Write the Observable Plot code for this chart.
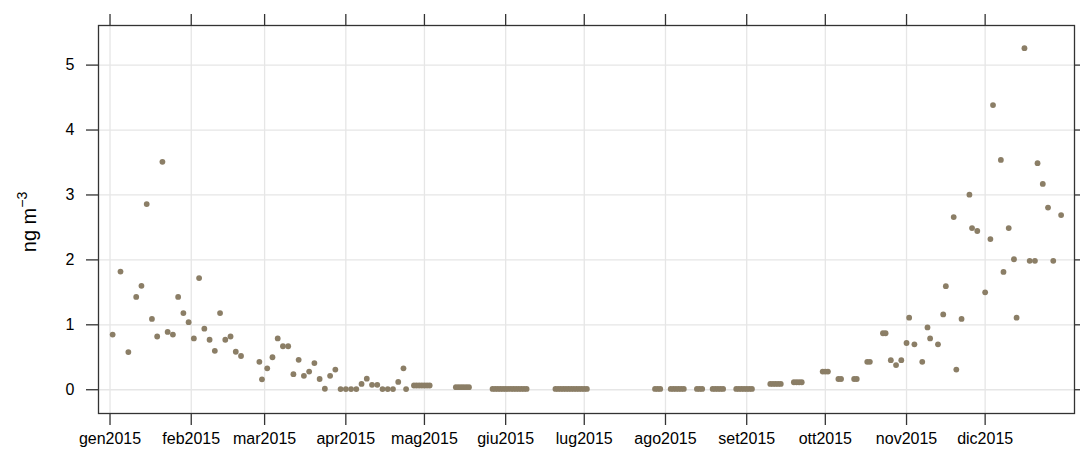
<!DOCTYPE html>
<html>
<head>
<meta charset="utf-8">
<script src="https://cdn.jsdelivr.net/npm/d3@7"></script>
<script src="https://cdn.jsdelivr.net/npm/@observablehq/plot@0.6"></script>
<style>
  html, body { margin: 0; padding: 0; background: #fff; }
  #chart svg { display: block; }
</style>
</head>
<body>
<div id="chart"></div>
<script>
// ---- data ----
const dates = [
  // January
  "2015-01-02","2015-01-05","2015-01-08","2015-01-11","2015-01-13","2015-01-15","2015-01-17",
  "2015-01-19","2015-01-21","2015-01-23","2015-01-25","2015-01-27","2015-01-29","2015-01-31",
  // February
  "2015-02-02","2015-02-04","2015-02-06","2015-02-08","2015-02-10","2015-02-12","2015-02-14",
  "2015-02-16","2015-02-18","2015-02-20","2015-02-27","2015-02-28",
  // March
  "2015-03-02","2015-03-04","2015-03-06","2015-03-08","2015-03-10","2015-03-12","2015-03-14",
  "2015-03-16","2015-03-18","2015-03-20","2015-03-22","2015-03-24","2015-03-26","2015-03-28","2015-03-30",
  // April
  "2015-04-01","2015-04-03","2015-04-05","2015-04-07","2015-04-09","2015-04-11","2015-04-13",
  "2015-04-15","2015-04-17","2015-04-19","2015-04-21","2015-04-23","2015-04-24",
  // late April - early May
  "2015-04-27","2015-04-28","2015-04-29","2015-04-30","2015-05-01","2015-05-02","2015-05-03",
  "2015-05-13","2015-05-14","2015-05-15","2015-05-16","2015-05-17","2015-05-18",
  // late May - early June
  "2015-05-27","2015-05-28","2015-05-29","2015-05-30","2015-05-31","2015-06-01","2015-06-02",
  "2015-06-03","2015-06-04","2015-06-05","2015-06-06","2015-06-07","2015-06-08","2015-06-09",
  // late June - early July
  "2015-06-20","2015-06-21","2015-06-22","2015-06-23","2015-06-24","2015-06-25","2015-06-26",
  "2015-06-27","2015-06-28","2015-06-29","2015-06-30","2015-07-01","2015-07-02",
  // late July - August
  "2015-07-28","2015-07-29","2015-07-30",
  "2015-08-03","2015-08-04","2015-08-05","2015-08-06","2015-08-07","2015-08-08",
  "2015-08-13","2015-08-14","2015-08-15",
  "2015-08-19","2015-08-20","2015-08-21","2015-08-22","2015-08-23",
  "2015-08-28","2015-08-29","2015-08-30","2015-08-31","2015-09-01","2015-09-02","2015-09-03",
  // September - October
  "2015-09-10","2015-09-11","2015-09-12","2015-09-13","2015-09-14",
  "2015-09-19","2015-09-20","2015-09-21","2015-09-22",
  "2015-09-30","2015-10-01","2015-10-02",
  "2015-10-06","2015-10-07",
  "2015-10-12","2015-10-13",
  "2015-10-17","2015-10-18",
  "2015-10-23","2015-10-24",
  "2015-10-26","2015-10-28","2015-10-30",
  // November
  "2015-11-01","2015-11-02","2015-11-04","2015-11-07","2015-11-09","2015-11-10","2015-11-13",
  "2015-11-15","2015-11-16","2015-11-19","2015-11-20","2015-11-22","2015-11-25","2015-11-26","2015-11-28",
  // December
  "2015-12-01","2015-12-03","2015-12-04","2015-12-07","2015-12-08","2015-12-10","2015-12-12",
  "2015-12-13","2015-12-16","2015-12-18","2015-12-20","2015-12-21","2015-12-23","2015-12-25",
  "2015-12-27","2015-12-30"
];

const values = [
  // January
  0.85, 1.82, 0.58, 1.43, 1.60, 2.86, 1.09,
  0.82, 3.51, 0.89, 0.85, 1.43, 1.18, 1.04,
  // February
  0.79, 1.72, 0.94, 0.77, 0.60, 1.18, 0.77,
  0.82, 0.585, 0.52, 0.43, 0.16,
  // March
  0.33, 0.50, 0.79, 0.67, 0.67, 0.24, 0.46,
  0.215, 0.28, 0.41, 0.165, 0.015, 0.215, 0.31, 0.01,
  // April
  0.01, 0.01, 0.01, 0.09, 0.17, 0.075, 0.075,
  0.01, 0.01, 0.01, 0.12, 0.33, 0.01,
  // late April - early May
  0.065, 0.065, 0.065, 0.065, 0.065, 0.065, 0.065,
  0.04, 0.04, 0.04, 0.04, 0.04, 0.04,
  // late May - early June
  0.012, 0.012, 0.012, 0.012, 0.012, 0.012, 0.012,
  0.012, 0.012, 0.012, 0.012, 0.012, 0.012, 0.012,
  // late June - early July
  0.012, 0.012, 0.012, 0.012, 0.012, 0.012, 0.012,
  0.012, 0.012, 0.012, 0.012, 0.012, 0.012,
  // late July - August
  0.012, 0.012, 0.012,
  0.012, 0.012, 0.012, 0.012, 0.012, 0.012,
  0.012, 0.012, 0.012,
  0.012, 0.012, 0.012, 0.012, 0.012,
  0.012, 0.012, 0.012, 0.012, 0.012, 0.012, 0.012,
  // September - October
  0.09, 0.09, 0.09, 0.09, 0.09,
  0.115, 0.115, 0.115, 0.115,
  0.28, 0.28, 0.28,
  0.165, 0.165,
  0.165, 0.165,
  0.43, 0.43,
  0.87, 0.87,
  0.455, 0.38, 0.455,
  // November
  0.72, 1.11, 0.70, 0.43, 0.96, 0.79, 0.70,
  1.16, 1.595, 2.66, 0.31, 1.09, 3.005, 2.49, 2.445,
  // December
  1.50, 2.32, 4.385, 3.54, 1.815, 2.49, 2.01,
  1.11, 5.26, 1.985, 1.985, 3.49, 3.17, 2.805,
  1.985, 2.69
];

const monthNames = ["gen","feb","mar","apr","mag","giu","lug","ago","set","ott","nov","dic"];
const tickYear = 2015;
const yTicks = [0, 1, 2, 3, 4, 5];
const yLabelMain = "ng m";
const yLabelSup = "\u22123";

// ---- build ----
const data = dates.map((d, i) => ({date: new Date(d + "T00:00:00Z"), value: values[i]}));
const monthTicks = monthNames.map((m, i) => new Date(Date.UTC(tickYear, i, 1)));
const fmtMonth = d => monthNames[d.getUTCMonth()] + d.getUTCFullYear();

const FONT = "'Liberation Sans', Arial, sans-serif";
const INK = "#333333";

const chart = Plot.plot({
  width: 1080,
  height: 456,
  marginTop: 25,
  marginBottom: 43,
  marginLeft: 98,
  marginRight: 6,
  style: {fontFamily: FONT, fontSize: "16px", color: "#000", background: "#fff"},
  x: {type: "utc", domain: [new Date("2014-12-27T14:30:00Z"), new Date("2016-01-04T02:30:00Z")]},
  y: {domain: [-0.366, 5.61]},
  marks: [
    Plot.gridX(monthTicks, {stroke: "#e6e6e6", strokeOpacity: 1, strokeWidth: 1.3}),
    Plot.gridY(yTicks, {stroke: "#e6e6e6", strokeOpacity: 1, strokeWidth: 1.3}),
    Plot.dot(data, {x: "date", y: "value", r: 2.9, fill: "#8B7E66"}),
    Plot.frame({stroke: INK, strokeWidth: 1.3}),
    Plot.axisX(monthTicks, {anchor: "bottom", tickSize: 12, tickPadding: 7, tickFormat: fmtMonth,
      stroke: INK, strokeWidth: 1.3, label: null, fontSize: 16}),
    Plot.axisX(monthTicks, {anchor: "top", tickSize: 12, tickFormat: () => "",
      stroke: INK, strokeWidth: 1.3, label: null}),
    Plot.axisY(yTicks, {anchor: "left", tickSize: 12, tickPadding: 12, tickFormat: d => String(d),
      stroke: INK, strokeWidth: 1.3, label: null, fontSize: 16}),
    Plot.axisY(yTicks, {anchor: "right", tickSize: 12, tickFormat: () => "",
      stroke: INK, strokeWidth: 1.3, label: null})
  ]
});

// y-axis title with a real superscript
const svg = d3.select(chart);
const lab = svg.append("text")
  .attr("transform", "translate(36,222) rotate(-90)")
  .attr("text-anchor", "middle")
  .attr("font-family", FONT)
  .attr("fill", "#000");
lab.append("tspan").attr("font-size", 20).text(yLabelMain);
lab.append("tspan").attr("font-size", 14).attr("dy", -9).text(yLabelSup);

document.getElementById("chart").appendChild(chart);
</script>
</body>
</html>
